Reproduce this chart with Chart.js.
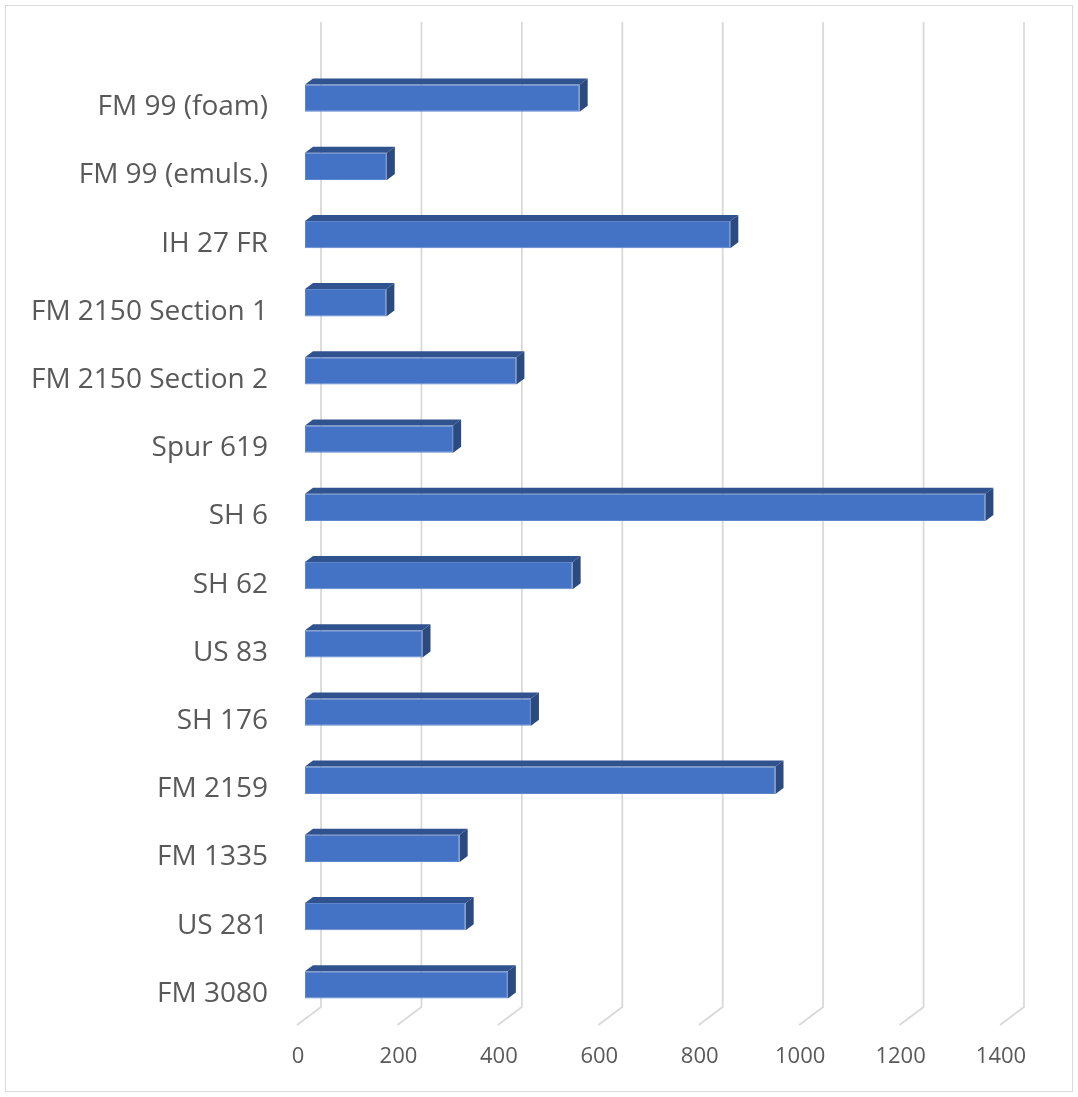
<!DOCTYPE html>
<html>
<head>
<meta charset="utf-8">
<script src="https://cdn.jsdelivr.net/npm/chart.js@4.4.0/dist/chart.umd.min.js"></script>
<style>
  html, body { margin: 0; padding: 0; background: #fff; }
  #wrap { width: 1078px; height: 1097px; position: relative; }
</style>
</head>
<body>
<div id="wrap"><canvas id="chart"></canvas></div>
<script>
// Data
const roads = [
  'FM 99 (foam)', 'FM 99 (emuls.)', 'IH 27 FR', 'FM 2150 Section 1', 'FM 2150 Section 2',
  'Spur 619', 'SH 6', 'SH 62', 'US 83', 'SH 176', 'FM 2159', 'FM 1335', 'US 281', 'FM 3080'
];
const values = [547, 163, 847, 162, 421, 295, 1355, 533, 234, 450, 937, 308, 320, 404];
const xTicks = [0, 200, 400, 600, 800, 1000, 1200, 1400];

const DEPTH_X = 8, DEPTH_Y = -6;     // bar depth
const WALL_X = 16, FLOOR_X = -24, FLOOR_Y = 18;

// back wall gridlines + floor
const gridPlugin = {
  id: 'grid3d',
  beforeDatasetsDraw(chart) {
    const { ctx, chartArea } = chart;
    const xs = chart.scales.x;
    const backBottom = chartArea.bottom - 12;
    ctx.save();
    ctx.strokeStyle = '#d9d9d9';
    ctx.lineWidth = 1.8;
    xTicks.forEach(v => {
      const bx = xs.getPixelForValue(v) + WALL_X;
      ctx.beginPath();
      ctx.moveTo(bx, 22);
      ctx.lineTo(bx, backBottom);
      ctx.lineTo(bx + FLOOR_X, backBottom + FLOOR_Y);
      ctx.stroke();
    });
    ctx.restore();
  },
  afterDraw(chart) {
    const { ctx } = chart;
    ctx.save();
    ctx.strokeStyle = '#d9d9d9';
    ctx.lineWidth = 1;
    ctx.strokeRect(5.5, 5.5, 1067, 1086);
    ctx.restore();
  }
};

// top and side faces of each bar
const barFaces = {
  id: 'barFaces',
  afterDatasetsDraw(chart) {
    const { ctx } = chart;
    const meta = chart.getDatasetMeta(0);
    ctx.save();
    meta.data.forEach(el => {
      const { x, y, base, height } = el.getProps(['x', 'y', 'base', 'height'], true);
      const top = y - height / 2, bottom = y + height / 2;
      ctx.fillStyle = '#30528f';
      ctx.beginPath();
      ctx.moveTo(base, top);
      ctx.lineTo(base + DEPTH_X, top + DEPTH_Y);
      ctx.lineTo(x + DEPTH_X, top + DEPTH_Y);
      ctx.lineTo(x, top);
      ctx.closePath();
      ctx.fill();
      ctx.fillStyle = '#2a4a80';
      ctx.beginPath();
      ctx.moveTo(x, top);
      ctx.lineTo(x + DEPTH_X, top + DEPTH_Y);
      ctx.lineTo(x + DEPTH_X, bottom + DEPTH_Y);
      ctx.lineTo(x, bottom);
      ctx.closePath();
      ctx.fill();
    });
    ctx.restore();
  }
};

new Chart(document.getElementById('chart'), {
  type: 'bar',
  data: {
    labels: roads,
    datasets: [{
      data: values,
      backgroundColor: '#4472c4',
      borderColor: '#5f87cd',
      borderWidth: 1,
      borderSkipped: false,
      categoryPercentage: 1,
      barPercentage: 0.4
    }]
  },
  options: {
    indexAxis: 'y',
    responsive: true,
    maintainAspectRatio: false,
    animation: false,
    layout: { padding: { top: 64, right: 70, bottom: 0, left: 0 } },
    plugins: { legend: { display: false }, tooltip: { enabled: false } },
    scales: {
      x: {
        min: 0,
        max: 1400,
        afterBuildTicks: s => { s.ticks = xTicks.map(v => ({ value: v })); },
        afterFit: s => { s.height = 78; },
        grid: { display: false },
        border: { display: false },
        ticks: {
          color: '#595959',
          font: { family: 'Open Sans', size: 22 },
          padding: 17,
          labelOffset: -7,
          maxRotation: 0,
          callback: v => String(v)
        }
      },
      y: {
        afterFit: s => { s.width = 305; },
        grid: { display: false, drawTicks: false },
        border: { display: false },
        ticks: {
          color: '#595959',
          font: { family: 'Open Sans', size: 28 },
          padding: 37,
          labelOffset: 9
        }
      }
    }
  },
  plugins: [gridPlugin, barFaces]
});
</script>
</body>
</html>
